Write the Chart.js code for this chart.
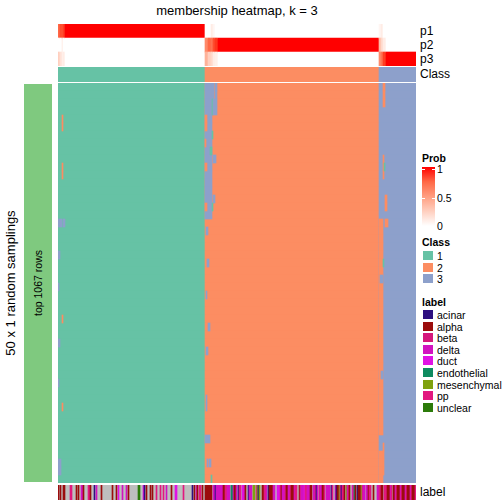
<!DOCTYPE html>
<html>
<head>
<meta charset="utf-8">
<script src="https://cdn.jsdelivr.net/npm/chart.js@4.4.1/dist/chart.umd.min.js"></script>
<style>
  body { margin: 0; background: #fff; font-family: "Liberation Sans", Arial, sans-serif; color: #000; }
  #wrap { position: relative; width: 504px; height: 504px; overflow: hidden; }
  canvas, .abs { position: absolute; }
  .txt { position: absolute; white-space: nowrap; line-height: 1; }
  .sw { position: absolute; width: 10px; height: 9px; }
</style>
</head>
<body>
<div id="wrap">
  <div class="txt" style="left:237px;top:10px;font-size:13px;transform:translate(-50%,-50%)">membership heatmap, k = 3</div>

  <canvas id="probStrip" width="358" height="42" style="left:58px;top:24px"></canvas>
  <canvas id="classStrip" width="358" height="15" style="left:58px;top:67px"></canvas>
  <canvas id="mainHeat" width="358" height="400" style="left:58px;top:83px"></canvas>
  <canvas id="labelStrip" width="358" height="15" style="left:58px;top:485px"></canvas>

  <div class="txt" style="left:420px;top:31px;font-size:12px;transform:translateY(-50%)">p1</div>
  <div class="txt" style="left:420px;top:45px;font-size:12px;transform:translateY(-50%)">p2</div>
  <div class="txt" style="left:420px;top:59px;font-size:12px;transform:translateY(-50%)">p3</div>
  <div class="txt" style="left:420px;top:74px;font-size:12px;transform:translateY(-50%)">Class</div>
  <div class="txt" style="left:420px;top:492px;font-size:12px;transform:translateY(-50%)">label</div>

  <div class="abs" style="left:24px;top:84px;width:28px;height:398px;background:#7FC97F"></div>
  <div class="txt" style="left:38px;top:283px;font-size:10.5px;transform:translate(-50%,-50%) rotate(-90deg)">top 1067 rows</div>
  <div class="txt" style="left:10px;top:283px;font-size:13px;transform:translate(-50%,-50%) rotate(-90deg)">50 x 1 random samplings</div>

  <div id="legend"></div>
</div>

<script>
const N_COLS = 358;
const N_SAMPLINGS = 50;

const classNames  = ['1', '2', '3'];
const classColors = ['#66C2A5', '#FC8D62', '#8DA0CB'];
// [fromCol, toCol, class]
const classRuns = [[0, 147, 1], [147, 321, 2], [321, 358, 3]];

// [fromCol, toCol, p1, p2, p3]
const probRuns = [
  [0, 2, 0.75, 0, 0.25], [2, 4, 0.85, 0, 0.15], [4, 5, 0.82, 0.1, 0.08], [5, 7, 0.9, 0, 0.1],
  [7, 147, 1, 0, 0],
  [147, 150, 0, 0.6, 0.4], [150, 153, 0, 0.75, 0.25], [153, 155, 0.1, 0.7, 0.2],
  [155, 157, 0.05, 0.85, 0.1], [157, 160, 0, 0.92, 0.08], [160, 321, 0, 1, 0],
  [321, 323, 0.05, 0.35, 0.6], [323, 325, 0.1, 0.2, 0.7], [325, 328, 0, 0.1, 0.9],
  [328, 358, 0, 0, 1]
];

// [firstRow, endRow, fromCol, toCol, class] cells that differ from the consensus class
const cellExceptions = [
  [4, 6, 4, 5, 2], [10, 12, 4, 5, 2], [17, 18, 0, 4, 3], [17, 18, 5, 7, 3],
  [21, 22, 0, 2, 3], [25, 26, 0, 1, 3], [29, 30, 4, 5, 2], [32, 33, 0, 2, 3],
  [37, 38, 0, 1, 3], [40, 41, 4, 5, 2], [47, 49, 0, 3, 3],
  [0, 17, 147, 154, 3], [4, 6, 147, 149, 2], [7, 8, 147, 148, 2], [10, 11, 147, 149, 2],
  [15, 16, 147, 149, 2], [0, 2, 154, 156, 3], [0, 2, 157, 159, 3], [2, 4, 154, 155, 1],
  [2, 4, 155, 159, 3], [6, 7, 154, 155, 1], [8, 9, 152, 154, 1], [9, 10, 155, 158, 3],
  [14, 15, 155, 157, 3], [15, 16, 154, 155, 1],
  [18, 19, 148, 150, 3], [22, 23, 149, 151, 3], [26, 27, 148, 149, 3], [30, 31, 150, 152, 3],
  [33, 34, 148, 150, 3], [39, 41, 148, 149, 3], [44, 45, 147, 152, 3], [47, 48, 149, 150, 3],
  [47, 48, 151, 153, 3], [49, 50, 153, 154, 1],
  [17, 44, 321, 325, 2], [46, 50, 321, 325, 2], [0, 3, 325, 327, 2], [9, 12, 325, 326, 2],
  [10, 11, 326, 327, 1], [14, 16, 327, 329, 2], [17, 18, 327, 330, 2], [22, 23, 325, 326, 1],
  [24, 25, 322, 325, 3], [36, 37, 323, 325, 3], [45, 49, 325, 326, 2]
];

const labelNames  = ['acinar', 'alpha', 'beta', 'delta', 'duct', 'endothelial', 'mesenchymal', 'pp', 'unclear'];
const labelColors = ['#2E0F80', '#9B0C0C', '#D5177C', '#D212C0', '#E012E4', '#0E8B60', '#7FA10F', '#E2187F', '#2C7B0A'];
const labelKeys   = ['A', 'L', 'B', 'D', 'U', 'E', 'M', 'P', 'X'];
const naColor = '#BEBEBE';
// [fromCol, toCol, key]; columns not listed have no label
const labelRuns = [
  [0,1,'L'],[2,3,'L'],[5,7,'L'],[12,14,'P'],[18,19,'L'],[20,21,'L'],[23,25,'D'],[25,26,'L'],
  [30,32,'P'],[32,33,'L'],[36,37,'A'],[38,39,'D'],[43,44,'L'],[54,55,'L'],[58,59,'L'],[60,61,'U'],
  [64,65,'D'],[68,69,'D'],[70,71,'L'],[80,82,'X'],[85,86,'U'],[86,87,'A'],[88,89,'L'],[92,93,'L'],
  [94,95,'L'],[98,99,'P'],[102,103,'P'],[105,106,'P'],[108,109,'D'],[113,114,'L'],[117,119,'U'],
  [125,126,'P'],[134,135,'A'],[136,137,'L'],[138,139,'D'],[139,140,'L'],[141,143,'P'],[144,145,'L'],
  [147,154,'L'],[155,157,'D'],[157,158,'A'],[158,165,'D'],[165,167,'L'],[167,169,'P'],[169,172,'D'],
  [173,175,'E'],[175,176,'D'],[176,178,'L'],[178,179,'D'],[180,181,'A'],[181,183,'P'],[184,186,'U'],
  [186,187,'D'],[187,188,'L'],[190,191,'A'],[191,194,'D'],[195,197,'M'],[198,199,'P'],[199,200,'M'],
  [200,201,'A'],[201,202,'M'],[204,206,'L'],[206,208,'P'],[208,209,'D'],[210,211,'A'],[211,215,'L'],
  [215,217,'D'],[219,222,'U'],[222,223,'P'],[223,224,'L'],[224,227,'D'],[227,228,'P'],[228,230,'L'],
  [230,232,'D'],[232,233,'P'],[233,236,'L'],[236,237,'D'],[237,239,'P'],[241,242,'L'],[242,243,'P'],
  [243,246,'D'],[246,247,'U'],[247,249,'P'],[249,252,'D'],[252,254,'L'],[255,257,'D'],[257,258,'P'],
  [258,259,'A'],[259,260,'D'],[261,262,'P'],[262,264,'D'],[264,266,'L'],[266,267,'P'],[268,272,'D'],
  [273,274,'A'],[274,275,'P'],[277,278,'D'],[278,279,'A'],[279,281,'L'],[281,282,'M'],[282,283,'P'],
  [283,284,'A'],[284,286,'P'],[286,287,'L'],[288,289,'M'],[289,290,'D'],[290,291,'P'],[291,292,'L'],
  [294,295,'D'],[295,296,'P'],[296,297,'E'],[297,298,'L'],[299,300,'A'],[300,303,'L'],[303,304,'M'],
  [304,305,'P'],[305,307,'D'],[308,310,'D'],[310,311,'L'],[311,313,'P'],[315,316,'L'],[319,321,'D'],
  [321,323,'P'],[323,325,'L'],[326,329,'P'],[329,332,'L'],[332,333,'D'],[333,334,'P'],[335,337,'L'],
  [337,338,'D'],[338,339,'P'],[339,342,'L'],[342,343,'D'],[343,344,'P'],[344,347,'L'],[347,348,'D'],
  [348,349,'P'],[349,352,'L'],[352,353,'D'],[353,354,'P'],[354,357,'L'],[357,358,'P']
];

// white -> red, interpolated in CIE Lab like colorRamp2
function probColor(p) {
  const L = 100 + (53.24 - 100) * p, a = 80.09 * p, b = 67.2 * p;
  const fy = (L + 16) / 116, fx = fy + a / 500, fz = fy - b / 200;
  const inv = t => t > 0.206893 ? t * t * t : (t - 16 / 116) / 7.787;
  const X = 0.95047 * inv(fx), Y = inv(fy), Z = 1.08883 * inv(fz);
  const lin = [
    3.2406 * X - 1.5372 * Y - 0.4986 * Z,
    -0.9689 * X + 1.8758 * Y + 0.0415 * Z,
    0.0557 * X - 0.2040 * Y + 1.0570 * Z
  ];
  const rgb = lin.map(c => {
    c = Math.min(1, Math.max(0, c));
    c = c <= 0.0031308 ? 12.92 * c : 1.055 * Math.pow(c, 1 / 2.4) - 0.055;
    return Math.round(c * 255);
  });
  return `rgb(${rgb.join(',')})`;
}

function stripChart(id, rows, bars) {
  return new Chart(document.getElementById(id), {
    type: 'bar',
    data: {
      labels: rows,
      datasets: [{
        data: bars.map(b => ({ x: [b.x0, b.x1], y: b.row })),
        backgroundColor: bars.map(b => b.color),
        borderWidth: 0, barPercentage: 1, categoryPercentage: 1
      }]
    },
    options: {
      indexAxis: 'y', responsive: false, animation: false, events: [],
      layout: { padding: 0 },
      plugins: { legend: { display: false }, tooltip: { enabled: false } },
      scales: {
        x: { type: 'linear', min: 0, max: N_COLS, display: false },
        y: { type: 'category', display: false }
      }
    }
  });
}

// probability rows
const pRows = ['p1', 'p2', 'p3'];
const pBars = [];
probRuns.forEach(r => pRows.forEach((name, i) =>
  pBars.push({ row: name, x0: r[0], x1: r[1], color: probColor(r[2 + i]) })));
stripChart('probStrip', pRows, pBars);

// class row
stripChart('classStrip', ['Class'], classRuns.map(r =>
  ({ row: 'Class', x0: r[0], x1: r[1], color: classColors[r[2] - 1] })));

// main membership heatmap
const rowNames = Array.from({ length: N_SAMPLINGS }, (_, i) => 's' + i);
const heatBars = [];
rowNames.forEach(name => classRuns.forEach(r =>
  heatBars.push({ row: name, x0: r[0], x1: r[1], color: classColors[r[2] - 1] })));
cellExceptions.forEach(e => {
  for (let r = e[0]; r < e[1]; r++)
    heatBars.push({ row: rowNames[r], x0: e[2], x1: e[3], color: classColors[e[4] - 1] });
});
stripChart('mainHeat', rowNames, heatBars);

// label row
const labelBars = [{ row: 'label', x0: 0, x1: N_COLS, color: naColor }];
labelRuns.forEach(r => labelBars.push({ row: 'label', x0: r[0], x1: r[1],
  color: labelColors[labelKeys.indexOf(r[2])] }));
stripChart('labelStrip', ['label'], labelBars);

// legends
const lg = document.getElementById('legend');
let html = '';
const stops = [0, 0.25, 0.5, 0.75, 1].map(p => `${probColor(p)} ${p * 100}%`).join(',');
html += `<div class="txt" style="left:422px;top:158px;font-size:10.5px;font-weight:bold;transform:translateY(-50%)">Prob</div>`;
html += `<div class="abs" style="left:422px;top:167px;width:13px;height:59px;background:linear-gradient(to top,${stops})"></div>`;
[[169, '1'], [198, '0.5'], [226, '0']].forEach(([y, t]) => {
  html += `<div class="txt" style="left:437px;top:${y}px;font-size:10.5px;transform:translateY(-50%)">${t}</div>`;
  if (t !== '0') {
    html += `<div class="abs" style="left:422px;top:${y}px;width:3px;height:1px;background:#fff"></div>`;
    html += `<div class="abs" style="left:432px;top:${y}px;width:3px;height:1px;background:#fff"></div>`;
  }
});
html += `<div class="txt" style="left:422px;top:242px;font-size:10.5px;font-weight:bold;transform:translateY(-50%)">Class</div>`;
classNames.forEach((n, i) => {
  const top = 251 + i * 11.6;
  html += `<div class="sw" style="left:423px;top:${top}px;background:${classColors[i]}"></div>`;
  html += `<div class="txt" style="left:437px;top:${top + 5}px;font-size:10.5px;transform:translateY(-50%)">${n}</div>`;
});
html += `<div class="txt" style="left:422px;top:302px;font-size:10.5px;font-weight:bold;transform:translateY(-50%)">label</div>`;
labelNames.forEach((n, i) => {
  const top = 310 + i * 11.6;
  html += `<div class="sw" style="left:423px;top:${top}px;background:${labelColors[i]}"></div>`;
  html += `<div class="txt" style="left:437px;top:${top + 5}px;font-size:10.5px;transform:translateY(-50%)">${n}</div>`;
});
lg.innerHTML = html;
</script>
</body>
</html>
